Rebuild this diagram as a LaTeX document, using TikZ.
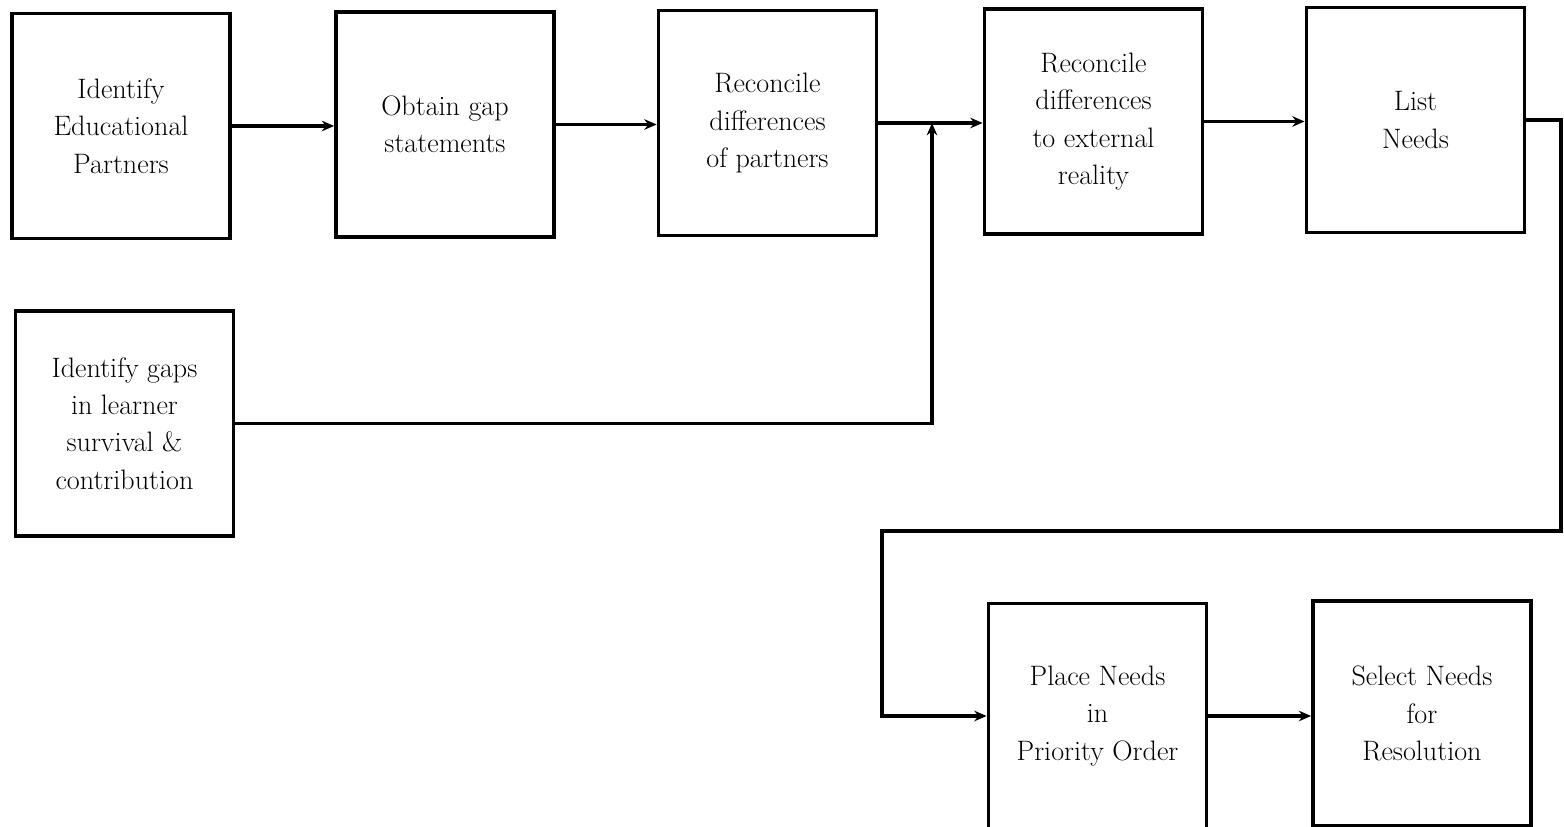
\documentclass[tikz,border=0pt]{standalone}
\usetikzlibrary{arrows.meta}

\tikzset{
  kasten/.style={draw, line width=2.2pt, minimum width=4.36cm, minimum height=4.5cm,
    align=center, inner sep=2pt, font=\fontsize{16}{21.3}\selectfont},
  pfeil/.style={line width=1.8pt}
}

\begin{document}
\begin{tikzpicture}[>={Stealth[length=7pt,width=6pt]}, x=0.02cm, y=-0.02cm]
\useasboundingbox (0,0) rectangle (1564,827);

% obere Reihe
\node[kasten] (partner) at (121,126) {Identify\\Educational\\Partners};
\node[kasten] (gap) at (445,124.5) {Obtain gap\\statements};
\node[kasten] (partnerdiff) at (767.5,123) {Reconcile\\differences\\of partners};
\node[kasten] (reality) at (1093.5,121.5) {Reconcile\\differences\\to external\\reality};
\node[kasten] (liste) at (1415.5,120) {List\\Needs};

% links darunter
\node[kasten] (luecken) at (124.5,423.5) {Identify gaps\\in learner\\survival \&\\contribution};

% untere Reihe
\node[kasten] (prioritaet) at (1097.5,716) {Place Needs\\in\\Priority Order};
\node[kasten] (auswahl) at (1422,713.5) {Select Needs\\for\\Resolution};

% Hilfspunkte
\coordinate (knoten) at (932,123);
\coordinate (rechts) at (1561,531);
\coordinate (links) at (882,531);

% Pfeile oben
\draw[pfeil,->] (partner.east) -- (partner.east -| gap.west);
\draw[pfeil,->] (gap.east) -- (gap.east -| partnerdiff.west);
\draw[pfeil,->] (partnerdiff.east) -- (partnerdiff.east -| reality.west);
\draw[pfeil,->] (reality.east) -- (reality.east -| liste.west);

% Zufluss von unten
\draw[pfeil,->] (luecken.east) -| (knoten);

% Rueckfuehrung nach unten
\draw[pfeil,->] (liste.east) -| (rechts) -- (links) |- (prioritaet.west);
\draw[pfeil,->] (prioritaet.east) -- (prioritaet.east -| auswahl.west);

\end{tikzpicture}
\end{document}
